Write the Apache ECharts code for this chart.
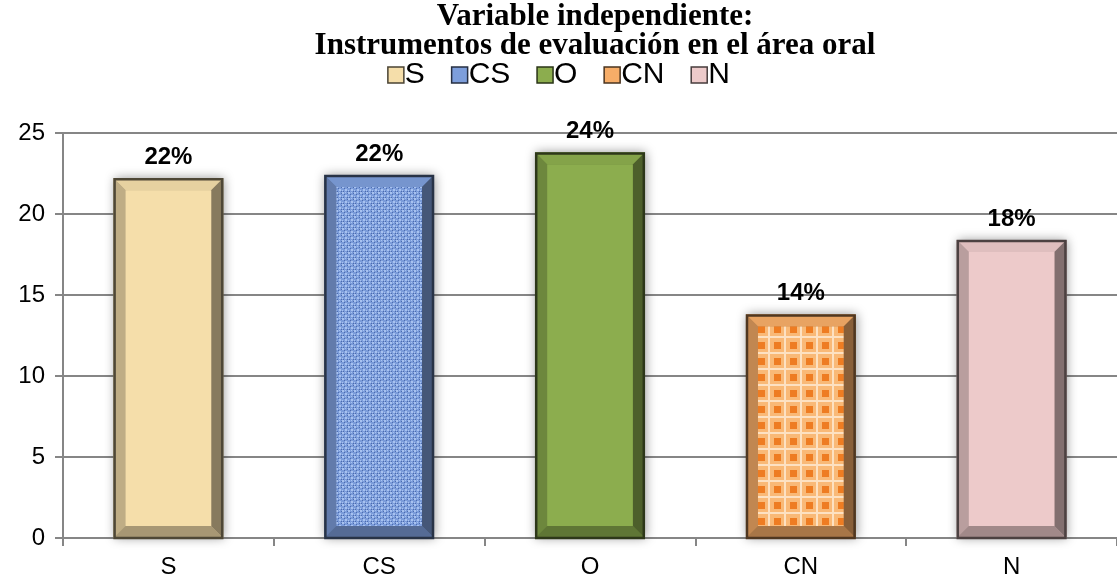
<!DOCTYPE html>
<html>
<head>
<meta charset="utf-8">
<script src="https://cdn.jsdelivr.net/npm/echarts@6/dist/echarts.min.js"></script>
<style>
  html, body { margin: 0; padding: 0; background: #fff; }
  #chart { width: 1117px; height: 581px; }
</style>
</head>
<body>
<div id="chart"></div>
<script>
// Response categories and their shares (percent of answers)
const categories = ['S', 'CS', 'O', 'CN', 'N'];
const values = [22.2, 22.4, 23.8, 13.8, 18.4];
const yTicks = [0, 5, 10, 15, 20, 25];
const titleLines = ['Variable independiente:', 'Instrumentos de evaluación en el área oral'];

// Fill colours for each category
const baseColors = ['#f5deaa', '#7d9edb', '#8cad4e', '#f7ad68', '#edcaca'];

function mix(hex, target, t) {
  const a = parseInt(hex.slice(1), 16), b = parseInt(target.slice(1), 16);
  const ch = (n, s) => (n >> s) & 255;
  const m = s => Math.round(ch(a, s) * (1 - t) + ch(b, s) * t);
  return 'rgb(' + m(16) + ',' + m(8) + ',' + m(0) + ')';
}

// Small tiled textures for the woven (CS) and checkered (CN) bars
function weavePattern() {
  const c = document.createElement('canvas');
  c.width = 6; c.height = 6;
  const g = c.getContext('2d');
  g.fillStyle = '#7b9cda'; g.fillRect(0, 0, 6, 6);
  g.fillStyle = '#a8c2ef';
  g.fillRect(0, 0, 2, 2); g.fillRect(3, 3, 2, 2); g.fillRect(3, 0, 1, 1); g.fillRect(0, 4, 1, 1);
  g.fillStyle = '#4d6cae';
  g.fillRect(2, 2, 1, 1); g.fillRect(5, 5, 1, 1); g.fillRect(5, 1, 1, 1); g.fillRect(1, 5, 1, 1);
  return { image: c, repeat: 'repeat' };
}
function checkerPattern() {
  const c = document.createElement('canvas');
  c.width = 16; c.height = 16;
  const g = c.getContext('2d');
  g.fillStyle = '#f9b977'; g.fillRect(0, 0, 16, 16);
  g.fillStyle = '#fde1c2'; g.fillRect(0, 0, 16, 2); g.fillRect(0, 0, 2, 16);
  g.fillStyle = '#ee7c22'; g.fillRect(6, 6, 7, 7);
  return { image: c, repeat: 'repeat' };
}
const innerFills = [baseColors[0], weavePattern(), baseColors[2], checkerPattern(), baseColors[4]];

function bevelBar(idx) {
  const base = baseColors[idx];
  const stroke = mix(base, '#000000', 0.68);
  const topC = mix(base, '#000000', 0.06);
  const leftC = mix(base, '#000000', 0.22);
  const rightC = mix(base, '#000000', 0.45);
  const bottomC = mix(base, '#000000', 0.32);
  return function (params, api) {
    const xi = api.value(0), v = api.value(1);
    const top = api.coord([xi, v]);
    const bottom = api.coord([xi, 0]);
    const w = api.size([1, 0])[0] * 0.52;
    const x0 = top[0] - w / 2, x1 = x0 + w, y0 = top[1], y1 = bottom[1];
    const b = 12;
    return {
      type: 'group',
      children: [
        { type: 'rect', shape: { x: x0, y: y0, width: w, height: y1 - y0 },
          style: { fill: leftC, shadowBlur: 10, shadowColor: 'rgba(0,0,0,0.4)', shadowOffsetX: 1, shadowOffsetY: 0 } },
        { type: 'polygon', shape: { points: [[x0, y0], [x1, y0], [x1 - b, y0 + b], [x0 + b, y0 + b]] }, style: { fill: topC } },
        { type: 'polygon', shape: { points: [[x0, y0], [x0 + b, y0 + b], [x0 + b, y1 - b], [x0, y1]] }, style: { fill: leftC } },
        { type: 'polygon', shape: { points: [[x1, y0], [x1, y1], [x1 - b, y1 - b], [x1 - b, y0 + b]] }, style: { fill: rightC } },
        { type: 'polygon', shape: { points: [[x0, y1], [x0 + b, y1 - b], [x1 - b, y1 - b], [x1, y1]] }, style: { fill: bottomC } },
        { type: 'rect', shape: { x: x0 + b, y: y0 + b, width: w - 2 * b, height: Math.max(0, y1 - y0 - 2 * b) },
          style: { fill: innerFills[idx] } },
        { type: 'rect', shape: { x: x0 + 1, y: y0 + 1, width: w - 2, height: y1 - y0 - 1 },
          style: { fill: 'none', stroke: stroke, lineWidth: 2.5 } },
        { type: 'text', x: top[0], y: y0 - 9,
          style: { text: Math.round(v) + '%', align: 'center', verticalAlign: 'bottom',
                   font: 'bold 24px "Liberation Sans", Arial, sans-serif', fill: '#000' } }
      ]
    };
  };
}

const series = categories.map((name, i) => ({
  name: name,
  type: 'custom',
  renderItem: bevelBar(i),
  itemStyle: { color: baseColors[i] },
  encode: { x: 0, y: 1 },
  data: [[i, values[i]]],
  z: 3
}));

const chart = echarts.init(document.getElementById('chart'), null, { renderer: 'canvas' });
chart.setOption({
  animation: false,
  backgroundColor: '#ffffff',
  title: {
    text: titleLines.join('\n'),
    left: 590,
    textAlign: 'center',
    top: -3,
    textStyle: { fontFamily: '"Liberation Serif", "Times New Roman", serif', fontWeight: 'bold',
                 fontSize: 31, lineHeight: 29, color: '#000' }
  },
  legend: {
    top: 55,
    left: 'center',
    itemWidth: 16,
    itemHeight: 16,
    itemGap: 26,
    icon: 'rect',
    textStyle: { fontFamily: '"Liberation Sans", Arial, sans-serif', fontSize: 30, color: '#000', padding: [0, 0, 0, -4] },
    data: categories.map((name, i) => ({
      name: name,
      itemStyle: { color: baseColors[i], borderColor: mix(baseColors[i], '#000000', 0.7), borderWidth: 1.5 }
    }))
  },
  grid: { left: 63, right: 0, top: 133, bottom: 43, containLabel: false },
  xAxis: {
    type: 'category',
    data: categories,
    boundaryGap: true,
    axisLine: { lineStyle: { color: '#868686', width: 2 } },
    axisTick: { show: true, length: 8, lineStyle: { color: '#868686', width: 2 } },
    axisLabel: { margin: 17, fontFamily: '"Liberation Sans", Arial, sans-serif', fontSize: 24, color: '#000' }
  },
  yAxis: {
    type: 'value',
    min: yTicks[0],
    max: yTicks[yTicks.length - 1],
    interval: yTicks[1] - yTicks[0],
    axisLine: { show: true, lineStyle: { color: '#868686', width: 2 } },
    axisTick: { show: true, length: 8, lineStyle: { color: '#868686', width: 2 } },
    splitLine: { lineStyle: { color: '#868686', width: 2 } },
    axisLabel: { margin: 18, fontFamily: '"Liberation Sans", Arial, sans-serif', fontSize: 24, color: '#000' }
  },
  series: series
});
</script>
</body>
</html>
